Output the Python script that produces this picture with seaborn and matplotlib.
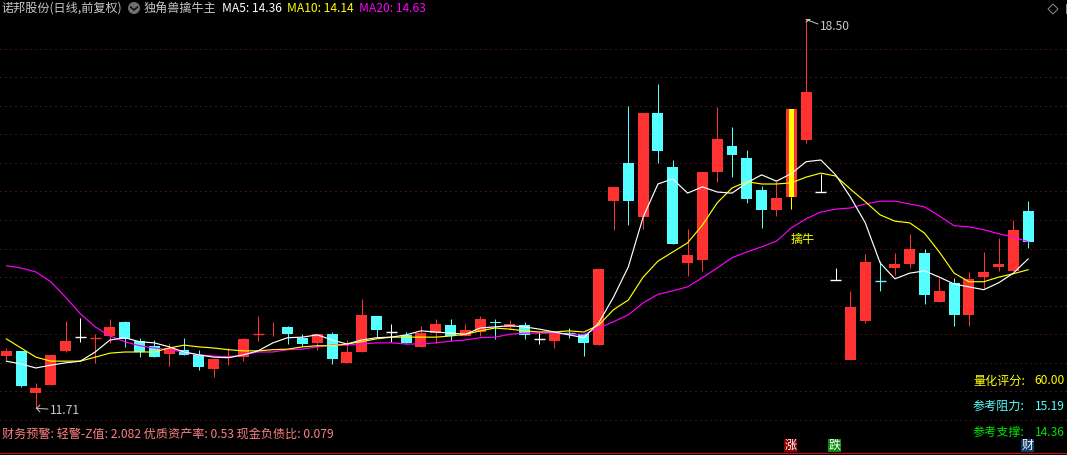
import pandas as pd
import seaborn as sns
import matplotlib
matplotlib.use('Agg')
import matplotlib.pyplot as plt
from matplotlib.patches import Rectangle, Circle, Polygon

#daily prices
opens = [12.62, 12.71, 11.97, 12.11, 12.71, 12.95, 12.93, 12.97, 13.22, 12.88,
         12.80, 12.66, 12.73, 12.64, 12.39, 12.61, 12.60, 12.99, 13.12, 13.13,
         12.94, 12.85, 13.00, 12.50, 12.69, 13.32, 13.04, 12.99, 12.78, 13.02,
         13.16, 12.97, 13.04, 13.21, 13.13, 13.16, 12.92, 12.88, 13.03, 13.00,
         12.81, 15.33, 16.00, 15.05, 16.87, 15.93, 14.25, 14.30, 15.84, 16.30,
         16.09, 15.53, 15.18, 15.40, 16.40, 15.49, 13.95, 12.55, 13.23, 13.94,
         14.16, 14.23, 14.42, 13.57, 13.90, 13.34, 14.00, 14.18, 14.11, 15.16]
highs = [12.76, 12.71, 12.15, 12.66, 13.23, 13.29, 13.00, 13.27, 13.23, 12.94,
         12.90, 12.85, 12.94, 12.73, 12.57, 12.76, 12.94, 13.32, 13.22, 13.15,
         13.00, 13.00, 13.04, 12.90, 13.62, 13.32, 13.18, 13.04, 13.15, 13.27,
         13.27, 13.18, 13.32, 13.27, 13.25, 13.22, 13.04, 13.02, 13.11, 13.00,
         14.14, 15.58, 17.00, 16.87, 17.38, 16.05, 14.84, 15.84, 16.98, 16.63,
         16.23, 15.60, 15.68, 16.94, 18.50, 15.81, 14.16, 13.76, 14.41, 14.28,
         14.42, 14.76, 14.49, 13.99, 13.99, 14.09, 14.44, 14.69, 15.00, 15.33]
lows = [12.55, 12.07, 11.71, 12.11, 12.69, 12.87, 12.50, 12.85, 12.78, 12.60,
        12.60, 12.45, 12.64, 12.38, 12.25, 12.46, 12.53, 12.88, 12.97, 12.83,
        12.80, 12.73, 12.48, 12.50, 12.69, 12.95, 12.87, 12.83, 12.78, 12.85,
        12.88, 12.97, 12.97, 12.92, 13.09, 12.92, 12.83, 12.76, 12.94, 12.62,
        12.81, 14.83, 14.91, 14.84, 16.00, 14.58, 14.02, 14.11, 15.67, 15.75,
        15.30, 14.86, 15.07, 15.19, 16.35, 15.49, 13.95, 12.55, 13.20, 13.76,
        14.04, 14.16, 13.53, 13.57, 13.15, 13.15, 13.81, 14.11, 14.11, 14.51]
closes = [12.71, 12.09, 12.06, 12.64, 12.88, 12.95, 12.94, 13.13, 12.92, 12.69,
          12.60, 12.76, 12.64, 12.43, 12.57, 12.62, 12.92, 13.00, 13.13, 13.00,
          12.83, 13.00, 12.57, 12.69, 13.34, 13.08, 13.04, 12.85, 13.02, 13.18,
          12.97, 13.08, 13.27, 13.20, 13.18, 12.99, 12.92, 13.02, 13.02, 12.85,
          14.14, 15.58, 15.33, 16.87, 16.21, 14.58, 14.39, 15.84, 16.42, 16.14,
          15.37, 15.18, 15.39, 16.94, 17.24, 15.49, 13.95, 13.48, 14.27, 13.93,
          14.23, 14.49, 13.69, 13.76, 13.34, 13.97, 14.09, 14.23, 14.83, 14.62]

ma5 = [12.53, 12.48, 12.41, 12.46, 12.50, 12.53, 12.69, 12.90, 12.94, 12.87,
       12.85, 12.78, 12.69, 12.64, 12.60, 12.59, 12.64, 12.71, 12.85, 12.94,
       12.95, 12.99, 12.90, 12.83, 12.90, 12.94, 12.95, 12.99, 13.06, 13.04,
       13.02, 13.00, 13.11, 13.13, 13.15, 13.13, 13.09, 13.04, 12.99, 12.94,
       13.20, 13.65, 14.18, 15.05, 15.63, 15.72, 15.47, 15.58, 15.49, 15.47,
       15.65, 15.79, 15.68, 15.81, 16.02, 16.05, 15.79, 15.40, 14.95, 14.25,
       13.97, 14.07, 14.11, 14.00, 13.88, 13.83, 13.78, 13.90, 14.07, 14.32]
ma10 = [12.92, 12.76, 12.60, 12.53, 12.53, 12.53, 12.60, 12.67, 12.69, 12.69,
        12.69, 12.76, 12.81, 12.78, 12.76, 12.73, 12.71, 12.71, 12.73, 12.74,
        12.78, 12.80, 12.80, 12.83, 12.87, 12.92, 12.95, 12.95, 12.95, 12.95,
        12.97, 13.00, 13.06, 13.11, 13.09, 13.06, 13.04, 13.04, 13.06, 13.04,
        13.16, 13.43, 13.60, 14.00, 14.28, 14.44, 14.60, 14.91, 15.30, 15.56,
        15.67, 15.63, 15.63, 15.65, 15.75, 15.82, 15.77, 15.54, 15.32, 15.09,
        14.98, 14.95, 14.77, 14.44, 14.07, 13.92, 13.92, 14.00, 14.06, 14.13]
ma20 = [14.20, 14.16, 14.09, 13.92, 13.65, 13.36, 13.13, 12.97, 12.87, 12.80,
        12.76, 12.73, 12.69, 12.64, 12.62, 12.60, 12.64, 12.69, 12.69, 12.73,
        12.74, 12.78, 12.81, 12.81, 12.83, 12.85, 12.85, 12.83, 12.83, 12.85,
        12.88, 12.90, 12.94, 12.95, 13.00, 13.02, 13.02, 13.02, 13.00, 13.00,
        13.11, 13.22, 13.34, 13.55, 13.70, 13.76, 13.83, 13.99, 14.16, 14.34,
        14.44, 14.53, 14.63, 14.86, 15.02, 15.14, 15.19, 15.21, 15.28, 15.33,
        15.33, 15.28, 15.23, 15.07, 14.90, 14.88, 14.83, 14.76, 14.70, 14.62]

grid_prices = [18.0, 17.5, 17.0, 16.5, 16.0, 15.5, 15.0, 14.5, 14.0, 13.5, 13.0, 12.5, 12.0, 11.5]
signal_day = 53  #the yellow "buy" candle

RED = '#ff3232'
CYAN = '#54ffff'
W, H = 1067, 455

df = pd.DataFrame({'open': opens, 'high': highs, 'low': lows, 'close': closes})
df['day'] = df.index

sns.set_theme(style='dark')
plt.rcParams['font.family'] = ['Noto Sans CJK SC', 'DejaVu Sans']

fig = plt.figure(figsize=(W / 100, H / 100), dpi=100, facecolor='black')
ax = fig.add_axes([0, 0, 1, 1], facecolor='black')

#dotted price grid
for g in grid_prices:
    ax.axhline(g, color='#8a2020', lw=0.72, ls=(0, (1, 4)), zorder=1)
ax.axhline(10.92, color='#b01818', lw=0.9, zorder=1)

#candles
for row in df.itertuples():
    if row.close > row.open:
        c = RED
    elif row.close < row.open:
        c = CYAN
    else:
        c = 'white'
    ax.vlines(row.day, row.low, row.high, color=c, lw=0.72, zorder=2, snap=True)
    if abs(row.close - row.open) <= 0.01:
        ax.hlines(row.close, row.day - 0.37, row.day + 0.37, color=c, lw=1.0, zorder=3, snap=True)
    else:
        bottom = min(row.open, row.close)
        ax.add_patch(Rectangle((row.day - 0.37, bottom), 0.74, abs(row.close - row.open),
                               facecolor=c, edgecolor='none', zorder=3, antialiased=False))

#highlight on the signal candle
ax.vlines(signal_day, lows[signal_day], opens[signal_day], color='#ffff00', lw=0.72, zorder=4, snap=True)
ax.add_patch(Rectangle((signal_day - 0.17, opens[signal_day]), 0.34, closes[signal_day] - opens[signal_day],
                       facecolor='#ffff00', edgecolor='none', zorder=4, antialiased=False))

#moving averages
ma_long = pd.DataFrame({'day': df['day'], 'MA5': ma5, 'MA10': ma10, 'MA20': ma20}).melt(
    id_vars='day', var_name='ma', value_name='price')
sns.lineplot(data=ma_long, x='day', y='price', hue='ma', ax=ax, legend=False, lw=0.85, zorder=5,
             palette={'MA5': 'white', 'MA10': '#ffff00', 'MA20': '#ff00ff'},
             hue_order=['MA20', 'MA10', 'MA5'])
ax.set_xlim(-0.425, 71.62)
ax.set_ylim(10.8875, 18.85)
ax.axis('off')


def label(px, py, s, color, size=8.7, ha='left'):
    fig.text(px / W, 1 - py / H, s, color=color, fontsize=size, ha=ha, va='center')


#header
label(2, 8, '诺邦股份(日线,前复权)', '#c8c8c8')
label(144, 8, '独角兽擒牛主', '#c8c8c8')
label(222, 8, 'MA5: 14.36', 'white')
label(287, 8, 'MA10: 14.14', '#ffff00')
label(359, 8, 'MA20: 14.63', '#ff00ff')

overlay = fig.add_axes([0, 0, 1, 1], facecolor='none')
overlay.set_xlim(0, W)
overlay.set_ylim(H, 0)
overlay.axis('off')
overlay.add_patch(Circle((134, 8), 6, facecolor='#707070', edgecolor='none'))
overlay.plot([130.5, 134, 137.5], [7, 10, 7], color='#101010', lw=1.2)
overlay.add_patch(Polygon([(1053, 4), (1058, 9), (1053, 14), (1048, 9)], closed=True,
                          facecolor='none', edgecolor='#8c8c8c', lw=0.7))
overlay.add_patch(Rectangle((1066, 4), 1, 10, facecolor='#8c8c8c', edgecolor='none'))

#high / low flags
overlay.plot([806, 810, 806, 818], [22, 19.5, 19.5, 24], color='#c8c8c8', lw=0.7)
label(820, 26, '18.50', '#c8c8c8')
overlay.plot([40, 36.5, 40], [405, 408.5, 412], color='#c8c8c8', lw=0.7)
overlay.plot([36.5, 48], [408.5, 409], color='#c8c8c8', lw=0.7)
label(50, 410, '11.71', '#c8c8c8')

label(791, 240, '擒牛', '#ffff00')
label(2, 434, '财务预警: 轻警-Z值: 2.082 优质资产率: 0.53 现金负债比: 0.079', '#ff8080')
label(1065, 381, '60.00', '#ffff00', ha='right')
label(973, 381, '量化评分:', '#ffff00')
label(1065, 406, '15.19', '#54ffff', ha='right')
label(973, 406, '参考阻力:', '#54ffff')
label(1065, 432, '14.36', '#00e000', ha='right')
label(973, 432, '参考支撑:', '#00e000')

#little boxes above the bottom rule
for px, s, bg in [(784, '涨', '#8c0000'), (828, '跌', '#0a8a0a'), (1021, '财', '#103a66')]:
    overlay.add_patch(Rectangle((px, 439), 13, 13, facecolor=bg, edgecolor='none'))
    overlay.text(px + 6.5, 445.5, s, color='white', fontsize=8.7, ha='center', va='center')

fig.savefig('out.png', dpi=100, facecolor='black')
